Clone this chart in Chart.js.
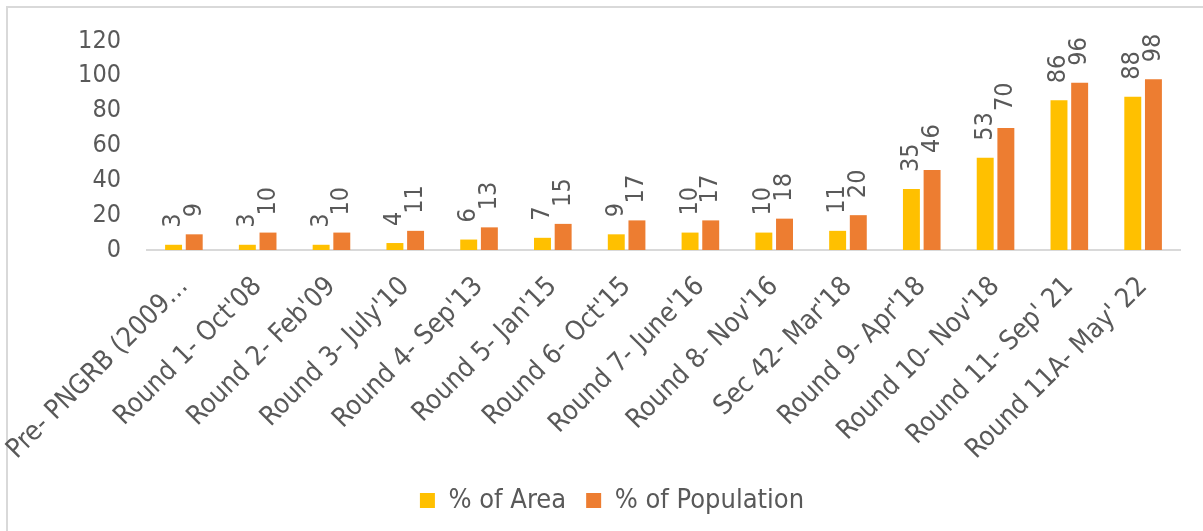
<!DOCTYPE html>
<html>
<head>
<meta charset="utf-8">
<script src="https://cdn.jsdelivr.net/npm/chart.js@4.4.1/dist/chart.umd.min.js"></script>
<style>
  html, body { margin: 0; padding: 0; background: #ffffff; }
  #wrap { position: relative; width: 1203px; height: 531px; overflow: hidden; }
  #frame { position: absolute; left: 6px; top: 6px; width: 1400px; height: 800px;
           border-left: 2px solid #d9d9d9; border-top: 2px solid #d9d9d9; box-sizing: border-box; }
  canvas { position: absolute; left: 0; top: 0; }
</style>
</head>
<body>
<div id="wrap">
  <div id="frame"></div>
  <canvas id="chart" width="1203" height="531"></canvas>
</div>
<script>
const categories = [
  "Pre- PNGRB (2009\u2026", "Round 1- Oct'08", "Round 2- Feb'09", "Round 3- July'10",
  "Round 4- Sep'13", "Round 5- Jan'15", "Round 6- Oct'15", "Round 7- June'16",
  "Round 8- Nov'16", "Sec 42- Mar'18", "Round 9- Apr'18", "Round 10- Nov'18",
  "Round 11- Sep' 21", "Round 11A- May' 22"
];
const areaPct = [3, 3, 3, 4, 6, 7, 9, 10, 10, 11, 35, 53, 86, 88];
const populationPct = [9, 10, 10, 11, 13, 15, 17, 17, 18, 20, 46, 70, 96, 98];
const yTicks = [0, 20, 40, 60, 80, 100, 120];

const FONT = "'DejaVu Sans Condensed', 'DejaVu Sans', sans-serif";
const TEXT = '#595959';

// Vertical value labels above each bar
const barValueLabels = {
  id: 'barValueLabels',
  afterDatasetsDraw(chart) {
    const ctx = chart.ctx;
    ctx.save();
    ctx.font = '25px ' + FONT;
    ctx.fillStyle = TEXT;
    ctx.textAlign = 'left';
    ctx.textBaseline = 'middle';
    chart.data.datasets.forEach((ds, di) => {
      chart.getDatasetMeta(di).data.forEach((bar, i) => {
        ctx.save();
        ctx.translate(bar.x, bar.y - 17);
        ctx.rotate(-Math.PI / 2);
        ctx.fillText(String(ds.data[i]), 0, 0);
        ctx.restore();
      });
    });
    ctx.restore();
  }
};

new Chart(document.getElementById('chart'), {
  type: 'bar',
  data: {
    labels: categories,
    datasets: [
      { label: '% of Area', data: areaPct, backgroundColor: '#ffc000',
        categoryPercentage: 0.56, barPercentage: 0.82 },
      { label: '% of Population', data: populationPct, backgroundColor: '#ed7d31',
        categoryPercentage: 0.56, barPercentage: 0.82 }
    ]
  },
  options: {
    responsive: false,
    animation: false,
    layout: { padding: { left: 44, right: 23, top: 37, bottom: 7 } },
    plugins: {
      tooltip: { enabled: false },
      legend: {
        position: 'bottom',
        labels: {
          font: { family: FONT, size: 27 },
          color: TEXT,
          boxWidth: 15, boxHeight: 15,
          padding: 20,
          generateLabels(chart) {
            return chart.data.datasets.map((ds, i) => ({
              text: ds.label, fillStyle: ds.backgroundColor, strokeStyle: ds.backgroundColor,
              lineWidth: 0, datasetIndex: i, fontColor: TEXT
            }));
          }
        }
      }
    },
    scales: {
      x: {
        grid: { display: false, drawTicks: false },
        border: { color: '#d9d9d9', width: 2 },
        ticks: {
          autoSkip: false, maxRotation: 45, minRotation: 45,
          font: { family: FONT, size: 27 }, color: TEXT, padding: 21
        },
        afterFit(scale) {
          scale.height = 217;
          scale.paddingLeft = 0;
          scale.paddingRight = 0;
        }
      },
      y: {
        min: 0, max: 120,
        afterBuildTicks(scale) { scale.ticks = yTicks.map(v => ({ value: v })); },
        grid: { display: false, drawTicks: false },
        border: { display: false },
        ticks: { font: { family: FONT, size: 25 }, color: TEXT, padding: 26 },
        afterFit(scale) { scale.width = 103; }
      }
    }
  },
  plugins: [barValueLabels]
});
</script>
</body>
</html>
